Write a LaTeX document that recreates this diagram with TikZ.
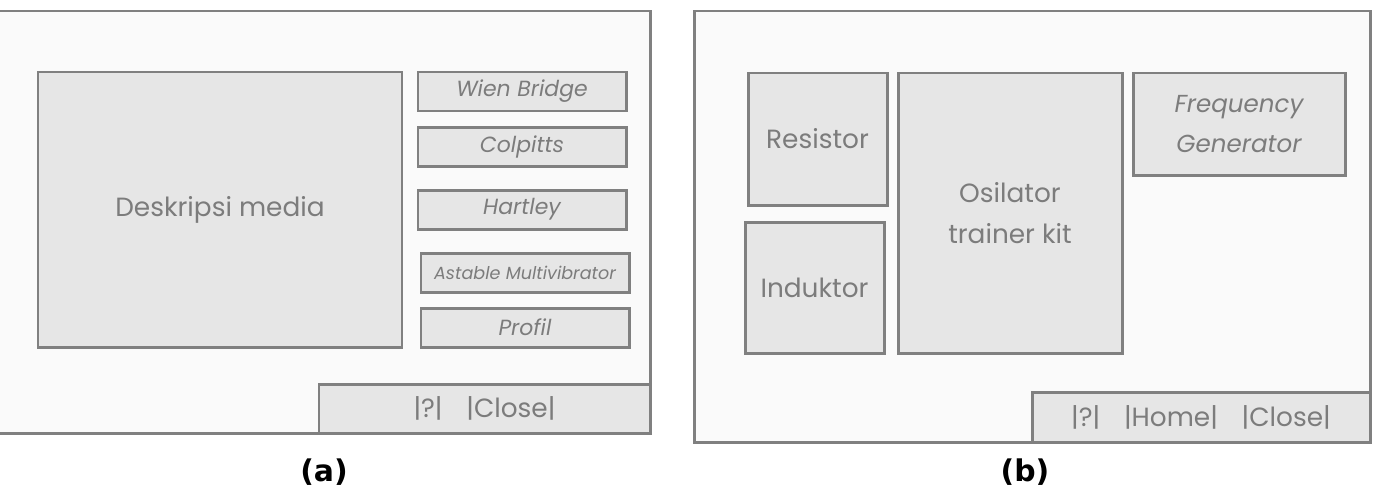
\documentclass[tikz,border=0pt]{standalone}
\usepackage{fontspec}
\setmainfont{Poppins}
\newfontfamily\capfont{DejaVu Sans}
\definecolor{framegray}{HTML}{808080}
\definecolor{boxfill}{HTML}{E6E6E6}
\definecolor{textgray}{HTML}{7C7C7C}
\newcommand\px{0.02cm}
\tikzset{
  frame/.style={draw=framegray, line width=1.7pt},
  box/.style={frame, fill=boxfill, text=textgray, inner sep=0pt, align=center},
  bigtext/.style={font=\fontsize{15}{23}\selectfont},
  btntext/.style={font=\fontsize{12.5}{15}\selectfont\itshape},
  bartext/.style={font=\fontsize{15}{18}\selectfont},
  caption/.style={font=\capfont\bfseries\fontsize{17}{20}\selectfont},
}
\begin{document}
\begin{tikzpicture}[x=\px, y=-\px]
  \useasboundingbox (0,0) rectangle (1376,498);
  % panel (a): left edge runs off the page
  \fill[black!2] (0,11) rectangle (650,433);
  \draw[frame] (0,11) -- (650,11) -- (650,433) -- (0,433);
  \node[box, bigtext, minimum width=364*\px, minimum height=275*\px]
    (deskripsi) at (220,209.5) {Deskripsi media};
  % menu buttons: name/x/y/text
  \foreach \n/\x/\y/\t in {
    wien/522/91.5/Wien Bridge,
    colpitts/522/147/Colpitts,
    hartley/522/209.5/Hartley,
    profil/525/327.5/Profil} {
    \node[box, btntext, minimum width=208*\px, minimum height=39*\px]
      (\n) at (\x,\y) {\t};
  }
  \node[box, font=\fontsize{10}{12}\selectfont\itshape,
    minimum width=208*\px, minimum height=39*\px]
    (astable) at (525,272.5) {Astable Multivibrator};
  \node[box, bartext, minimum width=331*\px, minimum height=49*\px]
    (bara) at (484.5,408.5) {|?|\hspace{0.9em}|Close|};
  \node[caption] (capa) at (324,472) {(a)};

  % panel (b)
  \draw[frame, fill=black!2] (694,11) rectangle (1370,442);
  \node[box, bigtext, minimum width=139*\px, minimum height=132*\px]
    (resistor) at (817.5,139) {Resistor};
  \node[box, bigtext, minimum width=139*\px, minimum height=131*\px]
    (induktor) at (814.5,287.5) {Induktor};
  \node[box, bigtext, minimum width=224*\px, minimum height=280*\px]
    (osilator) at (1010,213) {Osilator\\trainer kit};
  \node[box, font=\fontsize{14}{23}\selectfont\itshape,
    minimum width=212*\px, minimum height=102*\px]
    (freqgen) at (1239,124) {Frequency\\Generator};
  \node[box, bartext, minimum width=338*\px, minimum height=50*\px]
    (barb) at (1201,417) {|?|\hspace{0.9em}|Home|\hspace{0.9em}|Close|};
  \node[caption] (capb) at (1025,472) {(b)};
\end{tikzpicture}
\end{document}
